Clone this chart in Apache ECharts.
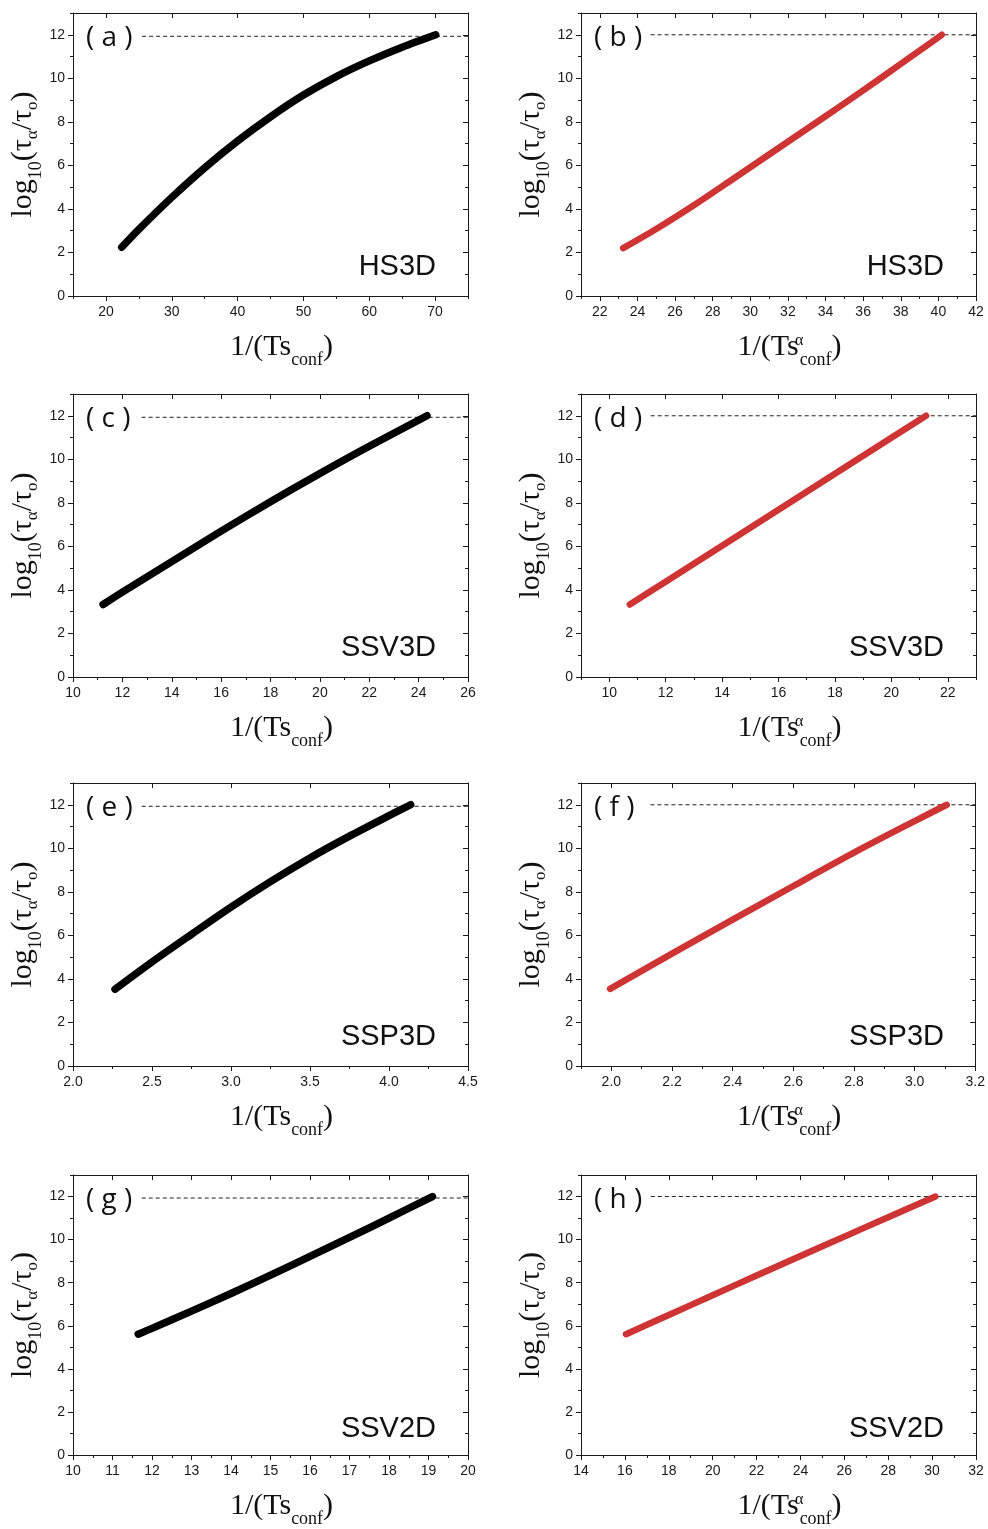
<!DOCTYPE html>
<html><head><meta charset="utf-8">
<script src="https://cdn.jsdelivr.net/npm/echarts@6/dist/echarts.min.js"></script>
<style>html,body{margin:0;padding:0;background:#fff}#c{width:988px;height:1529px}</style>
</head><body><div id="c"></div>
<script>
// ---- data ----
const panelLabels = ['( a )','( b )','( c )','( d )','( e )','( f )','( g )','( h )'];
const systemNames = ['HS3D','HS3D','SSV3D','SSV3D','SSP3D','SSP3D','SSV2D','SSV2D'];

const xA = [22.4, 25, 30, 35, 40, 45, 50, 55, 60, 65, 70.1];
const yA = [2.24, 3.06, 4.53, 5.89, 7.12, 8.23, 9.23, 10.08, 10.8, 11.43, 12.0];
const xB = [23.24, 25, 27, 29, 31, 33, 35, 37, 39, 40.18];
const yB = [2.2, 3.08, 4.17, 5.33, 6.5, 7.67, 8.85, 10.05, 11.27, 12.0];
const xC = [11.22, 12, 14, 16, 18, 20, 22, 24.34];
const yC = [3.33, 3.9, 5.3, 6.7, 8.05, 9.35, 10.6, 12.0];
const xD = [10.73, 12, 14, 16, 18, 20, 21.23];
const yD = [3.33, 4.38, 6.03, 7.68, 9.34, 10.99, 12.0];
const xE = [2.266, 2.5, 2.75, 3.0, 3.25, 3.5, 3.75, 4.0, 4.137];
const yE = [3.53, 4.78, 6.05, 7.3, 8.47, 9.56, 10.56, 11.5, 12.0];
const xF = [1.996, 2.2, 2.4, 2.6, 2.8, 3.0, 3.106];
const yF = [3.54, 5.16, 6.72, 8.27, 9.8, 11.25, 12.0];
const xG = [11.65, 12, 13, 14, 15, 16, 17, 18, 19.1];
const yG = [5.61, 5.88, 6.68, 7.5, 8.35, 9.22, 10.1, 11.0, 12.0];
const xH = [16.05, 18, 20, 22, 24, 26, 28, 30.15];
const yH = [5.61, 6.5, 7.42, 8.33, 9.24, 10.14, 11.04, 12.0];

// reference (dashed) line level and start
const refLevel = [11.93, 12, 11.93, 12, 11.93, 12, 11.93, 12];
const refStart = [25.5, 24.7, 12.78, 11.47, 2.435, 2.129, 11.74, 17.18];

// axis ranges and tick labels
const xMins = [15, 21, 10, 9, 2.0, 1.9, 10, 14];
const xMaxs = [75, 42, 26, 23, 4.5, 3.2, 20, 32];
const xMajorA = [20,30,40,50,60,70];            const xMinorA = [15,25,35,45,55,65,75];
const xMajorB = [22,24,26,28,30,32,34,36,38,40,42]; const xMinorB = [21,23,25,27,29,31,33,35,37,39,41];
const xMajorC = [10,12,14,16,18,20,22,24,26];   const xMinorC = [11,13,15,17,19,21,23,25];
const xMajorD = [10,12,14,16,18,20,22];         const xMinorD = [9,11,13,15,17,19,21,23];
const xMajorE = [2.0,2.5,3.0,3.5,4.0,4.5];      const xMinorE = [2.25,2.75,3.25,3.75,4.25];
const xMajorF = [2.0,2.2,2.4,2.6,2.8,3.0,3.2];  const xMinorF = [1.9,2.1,2.3,2.5,2.7,2.9,3.1];
const xMajorG = [10,11,12,13,14,15,16,17,18,19,20]; const xMinorG = [10.5,11.5,12.5,13.5,14.5,15.5,16.5,17.5,18.5,19.5];
const xMajorH = [14,16,18,20,22,24,26,28,30,32]; const xMinorH = [15,17,19,21,23,25,27,29,31];
const xDecimals = [0, 0, 0, 0, 1, 1, 0, 0];
const yMin = 0, yMax = 13;
const yMajor = [0,2,4,6,8,10,12];
const yMinor = [1,3,5,7,9,11,13];

// ---- build ----
const xs = [xA,xB,xC,xD,xE,xF,xG,xH];
const ys = [yA,yB,yC,yD,yE,yF,yG,yH];
const xMajors = [xMajorA,xMajorB,xMajorC,xMajorD,xMajorE,xMajorF,xMajorG,xMajorH];
const xMinors = [xMinorA,xMinorB,xMinorC,xMinorD,xMinorE,xMinorF,xMinorG,xMinorH];

const colLeft = [73, 581], rowTop = [13, 394, 783, 1175], GW = 395, GH = 283;
const AX = '#1a1a1a';
const SERIF = 'Liberation Serif';
const tickFont = {fontFamily:'Liberation Sans', fontSize:14, color:'#1a1a1a'};

const grids = [], xAxes = [], yAxes = [], series = [], graphics = [];

const mainTok = {fontFamily:SERIF, fontSize:30, lineHeight:34, verticalAlign:'top', color:'#111'};
const subTok = {fontFamily:SERIF, fontSize:18, lineHeight:18, verticalAlign:'top', padding:[19,0,0,0], color:'#111'};
const supTok = {fontFamily:SERIF, fontSize:16, lineHeight:16, verticalAlign:'top', padding:[1,0,0,0], width:1, color:'#111'};

for (let i = 0; i < 8; i++) {
  const col = i % 2, row = Math.floor(i / 2);
  const left = colLeft[col], top = rowTop[row];
  grids.push({left:left, top:top, width:GW, height:GH, containLabel:false});
  const red = col === 1;
  const xb = {type:'value', gridIndex:i, min:xMins[i], max:xMaxs[i], splitLine:{show:false}, axisPointer:{show:false}};
  const dec = xDecimals[i];
  xAxes.push(
    Object.assign({}, xb, {position:'bottom',
      axisLine:{show:true, onZero:false, lineStyle:{color:AX, width:1}},
      axisTick:{show:true, inside:false, length:5, customValues:xMajors[i], lineStyle:{color:AX}},
      axisLabel:Object.assign({show:true, customValues:xMajors[i], margin:9, formatter:(v)=>Number(v).toFixed(dec)}, tickFont),
      name: red ? '{m|1/(Ts}{u|α}{s|conf}{m|)}' : '{m|1/(Ts}{s|conf}{m|)}',
      nameLocation:'middle', nameGap:36,
      nameTextStyle:{padding:[0,0,0,22], rich:{m:mainTok, s:subTok, u:supTok}}
    }),
    Object.assign({}, xb, {position:'bottom', axisLine:{show:false},
      axisTick:{show:true, inside:false, length:3, customValues:xMinors[i], lineStyle:{color:AX}}, axisLabel:{show:false}}),
    Object.assign({}, xb, {position:'top', axisLine:{show:true, onZero:false, lineStyle:{color:AX, width:1}},
      axisTick:{show:true, inside:true, length:5, customValues:xMajors[i], lineStyle:{color:AX}}, axisLabel:{show:false}}),
    Object.assign({}, xb, {position:'top', axisLine:{show:false},
      axisTick:{show:true, inside:true, length:3, customValues:xMinors[i], lineStyle:{color:AX}}, axisLabel:{show:false}})
  );
  const yb = {type:'value', gridIndex:i, min:yMin, max:yMax, splitLine:{show:false}, axisPointer:{show:false}};
  yAxes.push(
    Object.assign({}, yb, {position:'left',
      axisLine:{show:true, onZero:false, lineStyle:{color:AX, width:1}},
      axisTick:{show:true, inside:false, length:5, customValues:yMajor, lineStyle:{color:AX}},
      axisLabel:Object.assign({show:true, customValues:yMajor, margin:8}, tickFont),
      name:'{m|log}{s|10}{m|(τ}{t|α}{m|/τ}{t|o}{m|)}',
      nameLocation:'middle', nameGap:31,
      nameTextStyle:{rich:{m:mainTok, s:subTok, t:Object.assign({}, subTok, {fontSize:17, padding:[16,0,0,0]})}}
    }),
    Object.assign({}, yb, {position:'left', axisLine:{show:false},
      axisTick:{show:true, inside:false, length:3, customValues:yMinor, lineStyle:{color:AX}}, axisLabel:{show:false}}),
    Object.assign({}, yb, {position:'right', axisLine:{show:true, onZero:false, lineStyle:{color:AX, width:1}},
      axisTick:{show:true, inside:true, length:5, customValues:yMajor, lineStyle:{color:AX}}, axisLabel:{show:false}}),
    Object.assign({}, yb, {position:'right', axisLine:{show:false},
      axisTick:{show:true, inside:true, length:3, customValues:yMinor, lineStyle:{color:AX}}, axisLabel:{show:false}})
  );
  series.push({
    type:'line', xAxisIndex:i*4, yAxisIndex:i*4, symbol:'none', silent:true,
    data:[[refStart[i], refLevel[i]], [xMaxs[i], refLevel[i]]],
    lineStyle:{color:'#222', width:1, type:[4,3]}, z:2, animation:false
  });
  series.push({
    type:'line', xAxisIndex:i*4, yAxisIndex:i*4, symbol:'none', smooth:0.3, silent:true,
    data: xs[i].map((x,k)=>[x, ys[i][k]]),
    lineStyle:{color: red ? '#cf3434' : '#000000', width: red ? 6.5 : 7.5, cap:'round', join:'round'},
    z:3, animation:false
  });
  graphics.push({type:'text', left:left+13, top:top+11, silent:true,
    style:{text:panelLabels[i], fontFamily:'Open Sans', fontSize:28, fill:'#111'}});
  graphics.push({type:'text', right:988-(left+GW-32), top:top+GH-44, silent:true,
    style:{text:systemNames[i], fontFamily:'Liberation Sans', fontSize:29, fill:'#111'}});
}

const chart = echarts.init(document.getElementById('c'), null, {renderer:'canvas'});
chart.setOption({animation:false, grid:grids, xAxis:xAxes, yAxis:yAxes, series:series, graphic:graphics});
</script></body></html>
